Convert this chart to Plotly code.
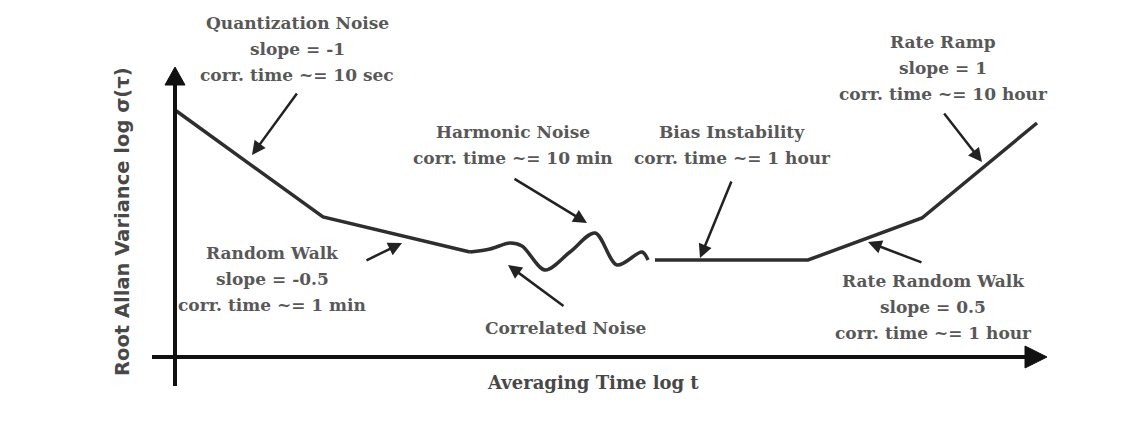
import plotly.graph_objects as go

# ---- schematic data (log-scale units, origin at axes corner) ----
seg_x = [0, 148, 295]
seg_y = [247, 140, 105]
wave_x = [295, 315, 335, 347, 370, 395, 420, 442, 467, 473]
wave_y = [105, 108, 114, 111, 87, 105, 124, 92, 105, 97]
flat_x = [480, 633, 747, 862]
flat_y = [97, 97, 139, 234]

# label lines: (text lines, center x, first-line y)
labels = [
    (["Quantization Noise", "slope = -1", "corr. time ~= 10 sec"], 122, 334),
    (["Random Walk", "slope = -0.5", "corr. time ~= 1 min"], 97, 104),
    (["Harmonic Noise", "corr. time ~= 10 min"], 338, 225),
    (["Correlated Noise"], 390, 29),
    (["Bias Instability", "corr. time ~= 1 hour"], 557, 225),
    (["Rate Ramp", "slope = 1", "corr. time ~= 10 hour"], 768, 315),
    (["Rate Random Walk", "slope = 0.5", "corr. time ~= 1 hour"], 758, 76),
]
# arrows: tip (x, y), tail (x, y)
arrows = [
    ((77, 202), (123, 265)),
    ((227, 114), (190, 96)),
    ((412, 134), (338, 179)),
    ((333, 92), (390, 50)),
    ((525, 99), (557, 177)),
    ((807, 195), (768, 245)),
    ((693, 115), (748, 94)),
]

LINE = "#2e2e2e"
TXT = "#585858"
SERIF = "DejaVu Serif"

fig = go.Figure()
fig.add_trace(go.Scatter(x=seg_x, y=seg_y, mode="lines",
                         line=dict(color=LINE, width=3.5), hoverinfo="skip"))
fig.add_trace(go.Scatter(x=wave_x, y=wave_y, mode="lines",
                         line=dict(color=LINE, width=3.5, shape="spline", smoothing=0.9),
                         hoverinfo="skip"))
fig.add_trace(go.Scatter(x=flat_x, y=flat_y, mode="lines",
                         line=dict(color=LINE, width=3.5), hoverinfo="skip"))

# axes lines with arrowheads
fig.add_shape(type="line", x0=0, x1=0, y0=-29, y1=272, line=dict(color="#111", width=4))
fig.add_shape(type="line", x0=-23, x1=850, y0=0, y1=0, line=dict(color="#111", width=4))
fig.add_shape(type="path", path="M -10,272 L 10,272 L 0,290 Z",
              fillcolor="#111", line=dict(color="#111", width=1))
fig.add_shape(type="path", path="M 850,-11 L 850,11 L 872,0 Z",
              fillcolor="#111", line=dict(color="#111", width=1))

for (tx, ty), (sx, sy) in arrows:
    fig.add_annotation(x=tx, y=ty, ax=sx, ay=sy, xref="x", yref="y",
                       axref="x", ayref="y", text="", showarrow=True,
                       arrowhead=2, arrowsize=1.1, arrowwidth=2.5, arrowcolor="#222")

LH = 26
for lines, cx, cy in labels:
    for i, t in enumerate(lines):
        fig.add_annotation(x=cx, y=cy - i * LH, xref="x", yref="y", text="<b>" + t + "</b>",
                           showarrow=False, xanchor="center", yanchor="middle",
                           font=dict(family=SERIF, size=17, color=TXT))

fig.add_annotation(x=418, y=-25, xref="x", yref="y", text="<b>Averaging Time log t</b>",
                   showarrow=False, xanchor="center", yanchor="middle",
                   font=dict(family=SERIF, size=18, color="#484848"))
fig.add_annotation(x=-53, y=135, xref="x", yref="y", text="<b>Root Allan Variance log σ(τ)</b>",
                   showarrow=False, xanchor="center", yanchor="middle", textangle=-90,
                   font=dict(family="DejaVu Sans", size=19.5, color="#484848"))

# page body has an 8px margin: size the figure to fit the window exactly
fig.update_layout(
    width=1135, height=431, margin=dict(l=0, r=0, t=0, b=0),
    paper_bgcolor="white", plot_bgcolor="white", showlegend=False,
    xaxis=dict(range=[-167, 968], visible=False, fixedrange=True),
    yaxis=dict(range=[-82, 349], visible=False, fixedrange=True),
)
fig.write_html("out.html")
